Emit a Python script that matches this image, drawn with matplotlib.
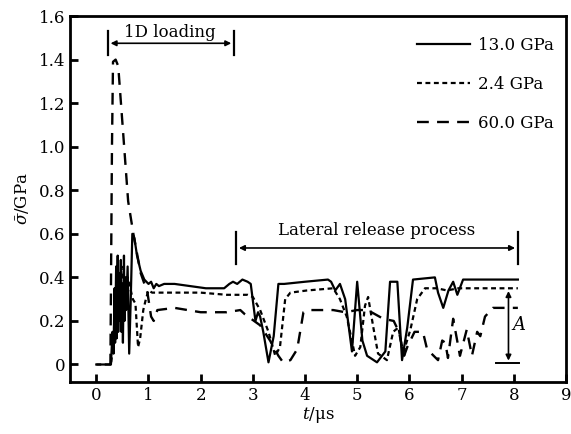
import matplotlib
matplotlib.use("Agg")
from matplotlib import pyplot as plt

plt.rcParams['font.family'] = ['DejaVu Serif']
plt.rcParams['mathtext.fontset'] = 'dejavuserif'

# 13.0 GPa (solid)
t_13 = [0, 0.28, 0.31, 0.33, 0.35, 0.36, 0.38, 0.39, 0.41, 0.42, 0.44, 0.45, 0.47, 0.48,
        0.5, 0.51, 0.53, 0.54, 0.56, 0.57, 0.6, 0.63, 0.66, 0.69, 0.73, 0.78, 0.85, 0.92,
        1.0, 1.05, 1.1, 1.15, 1.2, 1.3, 1.5, 1.8, 2.1, 2.45, 2.55, 2.62, 2.7, 2.8, 2.9, 2.96,
        3.05, 3.1, 3.14, 3.2, 3.3, 3.4, 3.49, 3.6, 4.0, 4.44, 4.5, 4.58, 4.67, 4.77, 4.9, 5.0,
        5.1, 5.19, 5.38, 5.54, 5.63, 5.77, 5.86, 5.96, 6.07, 6.49, 6.55, 6.65, 6.75, 6.84,
        6.92, 7.03, 8.08]
s_13 = [0, 0, 0.15, 0.05, 0.35, 0.1, 0.45, 0.12, 0.5, 0.15, 0.42, 0.2, 0.48, 0.15,
        0.35, 0.1, 0.5, 0.2, 0.4, 0.25, 0.45, 0.05, 0.3, 0.6, 0.58, 0.5, 0.43, 0.39,
        0.37, 0.38, 0.35, 0.37, 0.36, 0.37, 0.37, 0.36, 0.35, 0.35, 0.37, 0.38, 0.37, 0.39, 0.38, 0.37,
        0.2, 0.24, 0.22, 0.15, 0.01, 0.13, 0.37, 0.37, 0.38, 0.39, 0.38, 0.34, 0.37, 0.3, 0.06, 0.38,
        0.11, 0.04, 0.01, 0.06, 0.38, 0.38, 0.02, 0.17, 0.39, 0.40, 0.33, 0.26, 0.34, 0.38,
        0.32, 0.39, 0.39]

# 2.4 GPa (dotted)
t_24 = [0, 0.28, 0.33, 0.36, 0.4, 0.44, 0.48, 0.52, 0.56, 0.6, 0.65, 0.7, 0.75, 0.8, 0.84,
        0.9, 0.95, 1.0, 1.07, 1.2, 1.5, 2.0, 2.5, 2.9, 3.0, 3.14, 3.3, 3.43, 3.52, 3.62, 3.72,
        4.04, 4.54, 4.67, 4.8, 4.96, 5.06, 5.15, 5.21, 5.31, 5.4, 5.57, 5.69, 5.79, 5.88, 6.02,
        6.15, 6.3, 6.53, 6.72, 6.94, 8.08]
s_24 = [0, 0, 0.1, 0.3, 0.15, 0.4, 0.2, 0.45, 0.25, 0.4, 0.35, 0.3, 0.28, 0.08, 0.12,
        0.25, 0.3, 0.34, 0.33, 0.33, 0.33, 0.33, 0.32, 0.32, 0.31, 0.25, 0.15, 0.04, 0.08, 0.3, 0.33,
        0.34, 0.35, 0.3, 0.22, 0.04, 0.08, 0.27, 0.31, 0.17, 0.05, 0.02, 0.15, 0.17, 0.05, 0.16,
        0.3, 0.35, 0.35, 0.34, 0.35, 0.35]

# 60.0 GPa (dashed)
t_60 = [0.25, 0.27, 0.3, 0.32, 0.37, 0.42, 0.5, 0.61, 0.71, 0.85, 0.98, 1.05, 1.1, 1.17,
        1.5, 2.0, 2.5, 2.76, 2.85, 3.14, 3.33, 3.49, 3.58, 3.72, 3.85, 3.97, 4.06, 4.29, 4.54,
        4.77, 5.0, 5.2, 5.5, 5.7, 5.8, 5.9, 5.96, 6.1, 6.26, 6.34, 6.55, 6.63, 6.69, 6.74, 6.84,
        6.97, 7.1, 7.2, 7.3, 7.36, 7.45, 7.6, 8.08]
s_60 = [0, 0, 1.0, 1.39, 1.4, 1.37, 1.11, 0.75, 0.6, 0.42, 0.33, 0.22, 0.2, 0.25,
        0.26, 0.24, 0.24, 0.25, 0.23, 0.18, 0.11, 0.04, 0.01, 0.02, 0.07, 0.24, 0.25, 0.25, 0.25,
        0.24, 0.25, 0.25, 0.21, 0.2, 0.15, 0.04, 0.08, 0.15, 0.15, 0.07, 0.02, 0.11, 0.1, 0.03, 0.21,
        0.04, 0.16, 0.04, 0.15, 0.13, 0.22, 0.26, 0.26]

labels = ['13.0 GPa', '2.4 GPa', '60.0 GPa']
x_ticks = list(range(10))
y_ticks = [0, 0.2, 0.4, 0.6, 0.8, 1.0, 1.2, 1.4, 1.6]
y_ticklabels = ['0', '0.2', '0.4', '0.6', '0.8', '1.0', '1.2', '1.4', '1.6']

fig = plt.figure(figsize=(5.71, 4.34), dpi=100)
ax = fig.add_axes([0.123, 0.12, 0.868, 0.843])

ax.plot(t_13, s_13, color='black', lw=1.6, ls='-', label=labels[0])
ax.plot(t_24, s_24, color='black', lw=1.6, ls=(0, (2.2, 1.6)), label=labels[1])
ax.plot(t_60, s_60, color='black', lw=1.7, ls=(0, (5, 3.5)), label=labels[2])

ax.set_xlim(-0.5, 9)
ax.set_ylim(-0.08, 1.6)
ax.set_xticks(x_ticks)
ax.set_yticks(y_ticks)
ax.set_yticklabels(y_ticklabels)
ax.tick_params(direction='in', length=6, width=2, labelsize=12, top=False, right=False)
for sp in ax.spines.values():
    sp.set_linewidth(2)

ax.set_xlabel(r'$t$/μs', fontsize=12, labelpad=1)
ax.set_ylabel(r'$\bar{\sigma}$/GPa', fontsize=12, labelpad=6)

leg = ax.legend(loc='upper right', frameon=False, fontsize=12, handlelength=3.2,
                labelspacing=1.3, handletextpad=0.5, bbox_to_anchor=(1.0, 0.974),
                borderaxespad=0.3)

# 1D loading annotation
ax.annotate('', xy=(0.22, 1.475), xytext=(2.64, 1.475),
            arrowprops=dict(arrowstyle='<|-|>', color='black', lw=1.2, mutation_scale=8))
ax.plot([0.22, 0.22], [1.42, 1.53], color='black', lw=1.6)
ax.plot([2.64, 2.64], [1.42, 1.53], color='black', lw=1.6)
ax.text(1.4, 1.525, '1D loading', ha='center', va='center', fontsize=12)

# Lateral release annotation
ax.annotate('', xy=(2.68, 0.535), xytext=(8.08, 0.535),
            arrowprops=dict(arrowstyle='<|-|>', color='black', lw=1.2, mutation_scale=8))
ax.plot([2.68, 2.68], [0.46, 0.61], color='black', lw=1.6)
ax.plot([8.08, 8.08], [0.46, 0.61], color='black', lw=1.6)
ax.text(5.38, 0.615, 'Lateral release process', ha='center', va='center', fontsize=12)

# Amplitude A
ax.annotate('', xy=(7.9, 0.35), xytext=(7.9, 0.005),
            arrowprops=dict(arrowstyle='<|-|>', color='black', lw=1.2, mutation_scale=8))
ax.plot([7.67, 8.1], [0.005, 0.005], color='black', lw=1.4)
ax.text(7.97, 0.18, 'A', fontsize=13, style='italic', ha='left', va='center')

fig.savefig('out.png', dpi=100)
